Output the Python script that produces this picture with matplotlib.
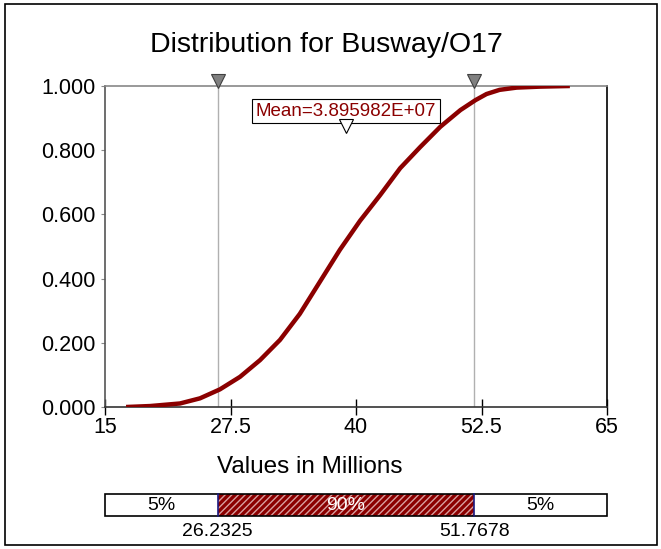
import numpy as np
import matplotlib.pyplot as plt
from matplotlib.patches import Rectangle
from matplotlib.transforms import ScaledTranslation

plt.rcParams['font.family'] = ['Liberation Sans', 'DejaVu Sans']

# Data (values in millions)
cdf_x = [17.1, 19.5, 22.47, 24.46, 26.45, 28.45, 30.44, 32.43, 34.4, 36.4, 38.4,
         40.4, 42.4, 44.4, 46.4, 48.4, 50.4, 51.9, 53.0, 54.3, 56.0, 58.3, 61.3]
cdf_y = [0.0, 0.003, 0.011, 0.027, 0.055, 0.094, 0.146, 0.209, 0.29, 0.39, 0.49,
         0.58, 0.66, 0.744, 0.81, 0.873, 0.925, 0.956, 0.975, 0.988, 0.995, 0.998, 1.0]
mean_val = 38.95982
p5, p95 = 26.2325, 51.7678
x_ticks = [15, 27.5, 40, 52.5, 65]
x_labels = ["15", "27.5", "40", "52.5", "65"]
y_ticks = [0.0, 0.2, 0.4, 0.6, 0.8, 1.0]
band_labels = ["5%", "90%", "5%"]

red = "#8b0000"

fig = plt.figure(figsize=(6.61, 5.49), dpi=100)
W, H = 661, 549

# outer frame
fig.patches.append(Rectangle((5 / W, 4 / H), 652 / W, 541 / H, transform=fig.transFigure,
                             fill=False, edgecolor="black", linewidth=1.2))

fig.text(326 / W, 1 - 45 / H, "Distribution for Busway/O17", ha="center", va="center",
         fontsize=20.5)

ax = fig.add_axes([105 / W, 1 - 407 / H, 502 / W, 321 / H])
ax.plot(cdf_x, cdf_y, color=red, linewidth=3.2, solid_capstyle="butt",
        solid_joinstyle="round", zorder=3)

up = ScaledTranslation(0, 5 / 100, fig.dpi_scale_trans)
for v in (p5, p95):
    ax.axvline(v, color="#b0b0b0", linewidth=1, zorder=1)
    ax.plot(v, 1.0, marker="v", markersize=10, color="#808080", markeredgecolor="#404040",
            markeredgewidth=0.8, clip_on=False, zorder=5, transform=ax.transData + up)

ax.annotate(f"Mean={mean_val * 1e6:.6E}", xy=(mean_val, 0.922),
            ha="center", va="center", color=red, fontsize=13.5,
            bbox=dict(boxstyle="square,pad=0.2", facecolor="white", edgecolor="black", linewidth=0.8))
ax.plot(mean_val, 0.875, marker="v", markersize=10, markerfacecolor="white",
        markeredgecolor="black", markeredgewidth=0.8, zorder=6)

ax.set_xlim(15, 65)
ax.set_ylim(0, 1)
ax.set_xticks(x_ticks)
ax.set_xticklabels(x_labels)
ax.set_yticks(y_ticks)
ax.set_yticklabels([f"{t:.3f}" for t in y_ticks])
ax.tick_params(axis="x", direction="inout", length=12, width=1, labelsize=15.5, pad=1)
ax.tick_params(axis="y", direction="out", length=3, width=0.8, color="#888888", labelsize=15.5, pad=4)
ax.spines["top"].set_color("#888888")
ax.spines["left"].set_color("#555555")
ax.spines["bottom"].set_color("#333333")
ax.spines["right"].set_color("black")
for s in ax.spines.values():
    s.set_linewidth(1.2)

fig.text(310 / W, 1 - 467 / H, "Values in Millions", ha="center", va="center", fontsize=17.5)

# percentile band
bx = fig.add_axes([105 / W, 1 - 516 / H, 502 / W, 22 / H])
bx.set_xlim(15, 65)
bx.set_ylim(0, 1)
bx.axis("off")
edges = [15, p5, p95, 65]
bx.barh(0.5, p5 - 15, left=15, height=1, color="white", edgecolor="none")
bx.barh(0.5, p95 - p5, left=p5, height=1, color=red, edgecolor="#d8a0a0", linewidth=0,
        hatch="/////")
bx.barh(0.5, 65 - p95, left=p95, height=1, color="white", edgecolor="none")
bx.add_patch(Rectangle((15, 0), 50, 1, fill=False, edgecolor="black", linewidth=1.2, clip_on=False))
for v in (p5, p95):
    bx.plot([v, v], [0, 1], color="#1a1a80", linewidth=1.2, clip_on=False)
for i, lab in enumerate(band_labels):
    c = (edges[i] + edges[i + 1]) / 2
    bx.text(c, 0.5, lab, ha="center", va="center", fontsize=14,
            color="white" if i == 1 else "black")
for v in (p5, p95):
    bx.text(v, -0.72, f"{v:.4f}", ha="center", va="center", fontsize=14)

plt.savefig("out.png", dpi=100)
